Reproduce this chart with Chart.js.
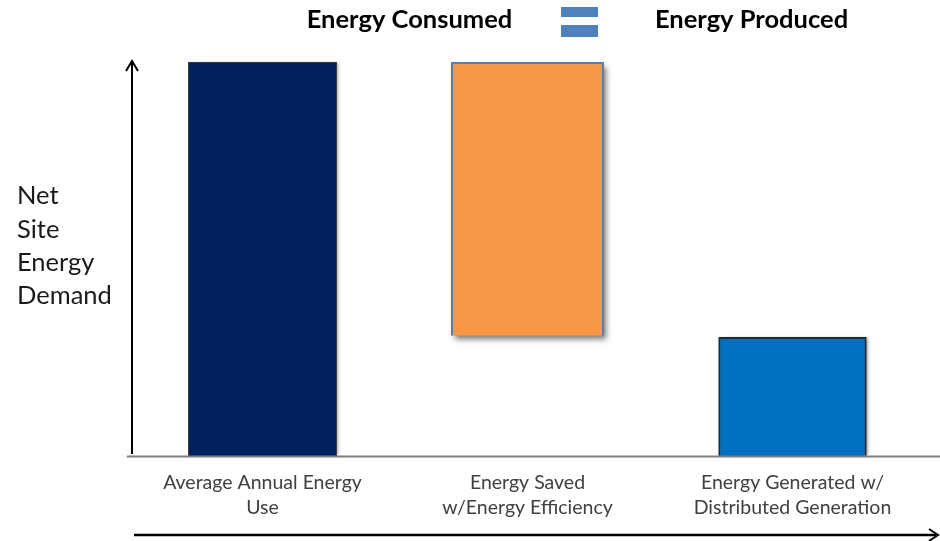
<!DOCTYPE html>
<html>
<head>
<meta charset="utf-8">
<script src="https://cdn.jsdelivr.net/npm/chart.js@4/dist/chart.umd.min.js"></script>
<style>
  html, body { margin: 0; padding: 0; background: #ffffff; }
  #wrap { width: 940px; height: 541px; }
</style>
</head>
<body>
<div id="wrap"><canvas id="c" width="940" height="541"></canvas></div>
<script>
// Categories along the horizontal axis (multi-line labels)
const categories = [
  ['Average Annual Energy', 'Use'],
  ['Energy Saved', 'w/Energy Efficiency'],
  ['Energy Generated w/', 'Distributed Generation']
];
// Floating bar ranges [start, end] on the net site energy scale
const annualUse = [0, 100];
const savedRange = [30.5, 100];
const generated = [0, 30.2];

const titleLeft = 'Energy Consumed';
const titleRight = 'Energy Produced';
const yTitleLines = ['Net', 'Site', 'Energy', 'Demand'];

const FONT = 'Lato, "Open Sans", "Liberation Sans", sans-serif';

// soft drop shadow strength per dataset
const shadowStyle = [
  { blur: 3, dx: 2, dy: 0, color: 'rgba(0,0,0,0.35)' },
  { blur: 6, dx: 3, dy: 4, color: 'rgba(0,0,0,0.55)' },
  { blur: 3, dx: 2, dy: 0, color: 'rgba(0,0,0,0.35)' }
];

const decorations = {
  id: 'decorations',
  beforeDatasetDraw(chart, args) {
    // paint a shadowed backing rectangle under each bar
    const ctx = chart.ctx;
    const s = shadowStyle[args.index];
    const values = chart.data.datasets[args.index].data;
    args.meta.data.forEach((bar, i) => {
      if (values[i] == null) return;
      const p = bar.getProps(['x', 'y', 'base', 'width'], true);
      if (!isFinite(p.y) || !isFinite(p.base)) return;
      const left = p.x - p.width / 2;
      const top = Math.min(p.y, p.base);
      const h = Math.abs(p.base - p.y);
      ctx.save();
      ctx.shadowColor = s.color;
      ctx.shadowBlur = s.blur;
      ctx.shadowOffsetX = s.dx;
      ctx.shadowOffsetY = s.dy;
      ctx.fillStyle = '#555555';
      ctx.fillRect(left + 1, top + 1, p.width - 2, h - 2);
      ctx.restore();
    });
  },
  afterDraw(chart) {
    const ctx = chart.ctx;
    const area = chart.chartArea;
    ctx.save();

    // baseline under the bars
    ctx.strokeStyle = '#7f7f7f';
    ctx.lineWidth = 2;
    ctx.beginPath();
    ctx.moveTo(127, area.bottom + 0.5);
    ctx.lineTo(940, area.bottom + 0.5);
    ctx.stroke();

    // vertical arrow
    ctx.strokeStyle = '#000000';
    ctx.lineWidth = 2;
    ctx.beginPath();
    ctx.moveTo(132, area.bottom - 2);
    ctx.lineTo(132, 61);
    ctx.stroke();
    ctx.beginPath();
    ctx.moveTo(126, 71);
    ctx.lineTo(132, 61);
    ctx.lineTo(138, 71);
    ctx.stroke();

    // horizontal arrow
    ctx.lineWidth = 2.5;
    ctx.beginPath();
    ctx.moveTo(134, 535);
    ctx.lineTo(936, 535);
    ctx.stroke();
    ctx.lineWidth = 2;
    ctx.beginPath();
    ctx.moveTo(929, 529);
    ctx.lineTo(938, 535);
    ctx.lineTo(929, 541);
    ctx.stroke();

    // vertical axis title
    ctx.fillStyle = '#1a1a1a';
    ctx.font = '25.5px ' + FONT;
    ctx.textAlign = 'left';
    ctx.textBaseline = 'middle';
    yTitleLines.forEach((t, i) => ctx.fillText(t, 17, 196 + i * 33.3));

    // heading: consumed = produced
    ctx.font = 'bold 25.5px ' + FONT;
    ctx.fillStyle = '#000000';
    ctx.textAlign = 'center';
    ctx.fillText(titleLeft, 409.5, 20);
    ctx.fillText(titleRight, 751.5, 20);
    ctx.fillStyle = '#4f81bd';
    ctx.fillRect(561, 7, 37, 10);
    ctx.fillRect(561, 25, 37, 12);

    ctx.restore();
  }
};

new Chart(document.getElementById('c'), {
  type: 'bar',
  data: {
    labels: categories,
    datasets: [
      {
        data: [annualUse, null, null],
        backgroundColor: '#002060',
        borderColor: '#3a3a3a',
        borderWidth: 1,
        barPercentage: 0.562,
        categoryPercentage: 1,
        grouped: false
      },
      {
        data: [null, savedRange, null],
        backgroundColor: '#f79646',
        borderColor: '#4f81bd',
        borderWidth: 2,
        barPercentage: 0.578,
        categoryPercentage: 1,
        grouped: false
      },
      {
        data: [null, null, generated],
        backgroundColor: '#0070c0',
        borderColor: '#1f2a36',
        borderWidth: 2,
        barPercentage: 0.56,
        categoryPercentage: 1,
        grouped: false
      }
    ]
  },
  options: {
    responsive: false,
    animation: false,
    layout: { padding: { left: 130, right: 15, top: 62, bottom: 0 } },
    plugins: {
      legend: { display: false },
      tooltip: { enabled: false }
    },
    scales: {
      x: {
        grid: { display: false },
        border: { display: false },
        afterFit(scale) { scale.height = 85; },
        ticks: {
          color: '#404040',
          font: { family: FONT, size: 19.5, lineHeight: 1.3 },
          padding: 6,
          maxRotation: 0,
          autoSkip: false
        }
      },
      y: {
        display: false,
        min: 0,
        max: 100
      }
    }
  },
  plugins: [decorations]
});
</script>
</body>
</html>
